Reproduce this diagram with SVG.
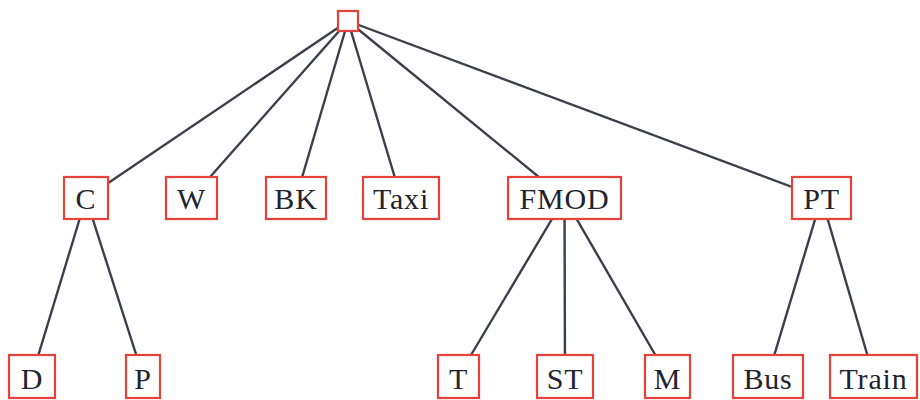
<svg xmlns="http://www.w3.org/2000/svg" width="920" height="400" viewBox="0 0 920 400">
<style>
.node rect{fill:#fff;stroke:#e8413a;stroke-width:2.2}
.node text{font-family:"Liberation Serif","DejaVu Serif",serif;font-size:30px;letter-spacing:0.8px;fill:#22232e;text-anchor:middle}
#connectors line{stroke:#3a3f4a;stroke-width:2.4;stroke-linecap:round}
</style>
<rect width="920" height="400" fill="#fff"/>
<g id="connectors">
<line x1="348" y1="21" x2="86" y2="198"/>
<line x1="348" y1="21" x2="191.5" y2="198"/>
<line x1="348" y1="21" x2="296" y2="198"/>
<line x1="348" y1="21" x2="401" y2="198"/>
<line x1="348" y1="21" x2="564.5" y2="198"/>
<line x1="348" y1="21" x2="821.5" y2="198"/>
<line x1="86" y1="198" x2="32" y2="376"/>
<line x1="86" y1="198" x2="143" y2="376"/>
<line x1="564.5" y1="198" x2="458.5" y2="376"/>
<line x1="564.5" y1="198" x2="565" y2="376"/>
<line x1="564.5" y1="198" x2="667.5" y2="376"/>
<line x1="821.5" y1="198" x2="768" y2="376"/>
<line x1="821.5" y1="198" x2="873.5" y2="376"/>
</g>
<g id="root" class="node"><rect x="338" y="11" width="20" height="20"/></g>
<g id="C" class="node"><rect x="64" y="177" width="44" height="42"/><text x="86" y="209">C</text></g>
<g id="W" class="node"><rect x="166" y="177" width="51" height="42"/><text x="191.5" y="209">W</text></g>
<g id="BK" class="node"><rect x="266" y="177" width="60" height="42"/><text x="296" y="209">BK</text></g>
<g id="Taxi" class="node"><rect x="363" y="177" width="76" height="42"/><text x="401" y="209">Taxi</text></g>
<g id="FMOD" class="node"><rect x="508" y="177" width="113" height="42"/><text x="564.5" y="209">FMOD</text></g>
<g id="PT" class="node"><rect x="792" y="177" width="59" height="42"/><text x="821.5" y="209">PT</text></g>
<g id="D" class="node"><rect x="9" y="355" width="46" height="43"/><text x="32" y="389">D</text></g>
<g id="P" class="node"><rect x="126" y="355" width="34" height="43"/><text x="143" y="389">P</text></g>
<g id="T" class="node"><rect x="438" y="355" width="41" height="43"/><text x="458.5" y="389">T</text></g>
<g id="ST" class="node"><rect x="537" y="355" width="56" height="43"/><text x="565" y="389">ST</text></g>
<g id="M" class="node"><rect x="645" y="355" width="45" height="43"/><text x="667.5" y="389">M</text></g>
<g id="Bus" class="node"><rect x="733" y="355" width="70" height="43"/><text x="768" y="389">Bus</text></g>
<g id="Train" class="node"><rect x="830" y="355" width="87" height="43"/><text x="873.5" y="389">Train</text></g>
</svg>
